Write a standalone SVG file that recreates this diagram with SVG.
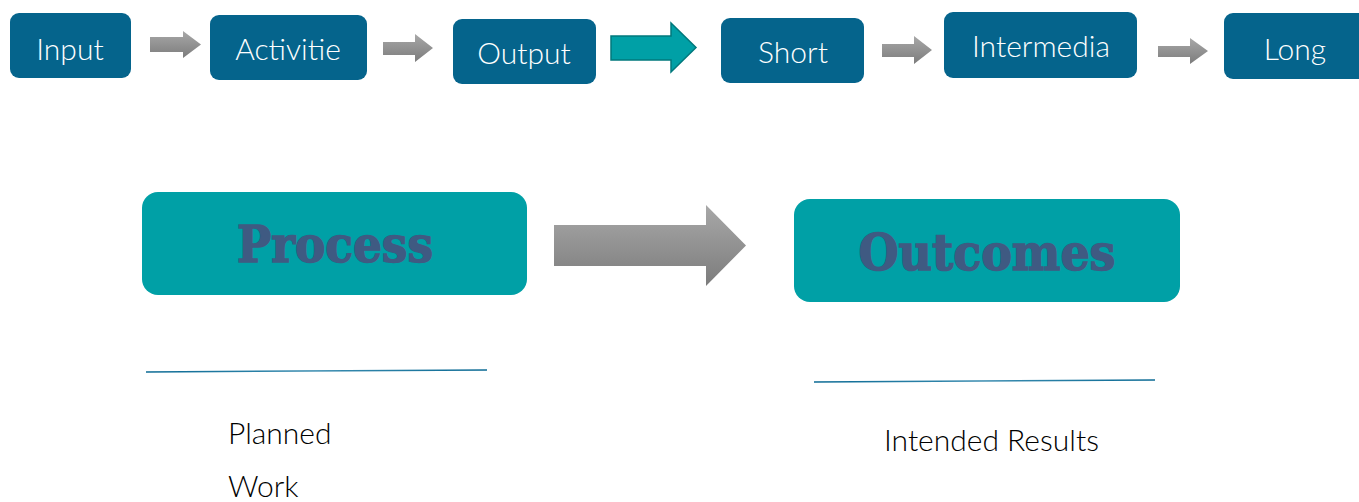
<svg xmlns="http://www.w3.org/2000/svg" width="1359" height="502" viewBox="0 0 1359 502">
<defs>
<style>
.top{fill:#05648c}
.big{fill:#00a0a6}
.tl{font-family:Lato,"Open Sans","Liberation Sans",sans-serif;font-weight:300;fill:#ffffff;font-size:30px;text-anchor:middle}
.bl{font-family:"DejaVu Serif","Liberation Serif",serif;font-weight:bold;fill:#3f5a82;stroke:#3f5a82;stroke-width:1.5px;text-anchor:middle}
.bt{font-family:Lato,"Open Sans","Liberation Sans",sans-serif;font-weight:300;fill:#000000;font-size:30px}
.ga{fill:url(#gg)}
</style>
<linearGradient id="gg" x1="0" y1="0" x2="0" y2="1">
<stop offset="0" stop-color="#a8a8a8"/>
<stop offset="1" stop-color="#7c7c7c"/>
</linearGradient>
<linearGradient id="ln" x1="0" y1="0" x2="1" y2="0">
<stop offset="0" stop-color="#0b6a94"/>
<stop offset="0.5" stop-color="#3a8cb0"/>
<stop offset="1" stop-color="#0b6a94"/>
</linearGradient>
</defs>
<rect width="1359" height="502" fill="#ffffff"/>
<g id="connectors">
<polygon class="ga" points="150,37 183,37 183,31 201,44.5 183,58 183,52 150,52"/>
<polygon class="ga" points="383,42 415,42 415,34 433,48 415,62 415,55 383,55"/>
<polygon points="611,36 671,36 671,23 696,47.5 671,72 671,60 611,60" fill="#00a0a6" stroke="#00787c" stroke-width="1.5"/>
<polygon class="ga" points="882,44 914,44 914,36 932,50 914,64 914,57 882,57"/>
<polygon class="ga" points="1158,46 1190,46 1190,38 1208,51 1190,64 1190,57 1158,57"/>
<polygon class="ga" points="554,225 706,225 706,205 746,245.5 706,286 706,266 554,266"/>
</g>
<g id="input"><rect class="top" x="10" y="13" width="121" height="65" rx="9"/><text class="tl" x="70" y="60">Input</text></g>
<g id="activitie"><rect class="top" x="210" y="15" width="157" height="65" rx="9"/><text class="tl" x="288" y="60">Activitie</text></g>
<g id="output"><rect class="top" x="453" y="19" width="143" height="65" rx="9"/><text class="tl" x="524" y="64">Output</text></g>
<g id="short"><rect class="top" x="721" y="18" width="143" height="65" rx="9"/><text class="tl" x="793" y="63">Short</text></g>
<g id="intermedia"><rect class="top" x="944" y="12" width="193" height="66" rx="9"/><text class="tl" x="1041" y="57">Intermedia</text></g>
<g id="long"><rect class="top" x="1224" y="13" width="150" height="66" rx="9"/><text class="tl" x="1295" y="60">Long</text></g>
<g id="process"><rect class="big" x="142" y="192" width="385" height="103" rx="16"/><text class="bl" x="335" y="262" font-size="50" textLength="196" lengthAdjust="spacingAndGlyphs">Process</text></g>
<g id="outcomes"><rect class="big" x="794" y="199" width="386" height="103" rx="16"/><text class="bl" x="987" y="270" font-size="50" textLength="257" lengthAdjust="spacingAndGlyphs">Outcomes</text></g>
<g id="process-note">
<line x1="146" y1="372" x2="487" y2="370" stroke="url(#ln)" stroke-width="1.5"/>
<text class="bt" x="228" y="444">Planned</text>
<text class="bt" x="228" y="497">Work</text>
</g>
<g id="outcomes-note">
<line x1="814" y1="382" x2="1155" y2="380" stroke="url(#ln)" stroke-width="1.5"/>
<text class="bt" x="884" y="451">Intended Results</text>
</g>
</svg>
